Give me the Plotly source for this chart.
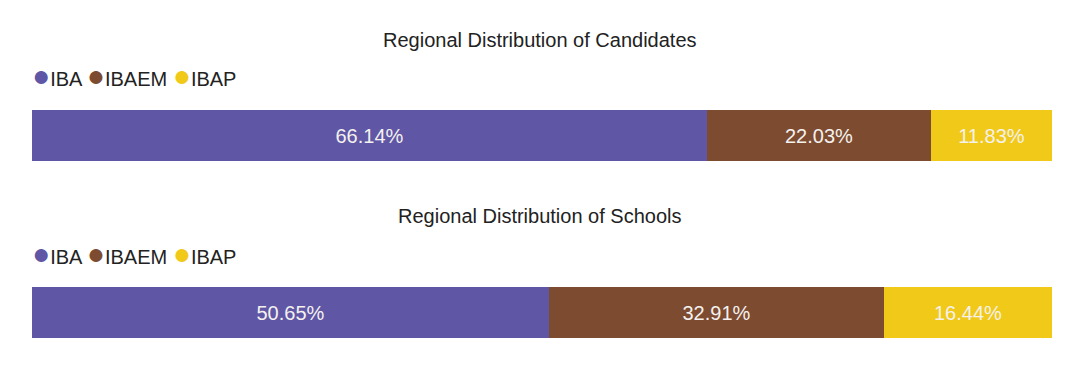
import plotly.graph_objects as go

regions = ["IBA", "IBAEM", "IBAP"]
colors = ["#5f56a5", "#7d4b30", "#f1c918"]
titles = ["Regional Distribution of Candidates", "Regional Distribution of Schools"]
candidates = [66.14, 22.03, 11.83]
schools = [50.65, 32.91, 16.44]
series = [candidates, schools]

OFF = 8  # page body margin
W, H = 1080 - 2 * OFF, 368 - 2 * OFF
def px(p):
    return (p - OFF) / W
def py(p):
    return 1 - (p - OFF) / H

fig = go.Figure()
bar_tops = [110, 287]
bar_h = 51
title_y = [40, 216]
legend_y = [76, 253]
FONT = "Liberation Sans, Arial, sans-serif"

for i, vals in enumerate(series):
    yref = "y" if i == 0 else "y2"
    xref = "x" if i == 0 else "x2"
    for r, v, c in zip(regions, vals, colors):
        fig.add_trace(go.Bar(
            x=[v], y=[""], orientation="h", name=r,
            marker=dict(color=c, line=dict(width=0)),
            text=[f"{v:.2f}%"], textposition="inside", insidetextanchor="middle",
            textfont=dict(color="#f4f1ee", size=20, family=FONT),
            showlegend=False, xaxis=xref, yaxis=yref, hoverinfo="skip",
        ))
    fig.add_annotation(text=titles[i], x=0.5, y=py(title_y[i]), xref="paper", yref="paper",
                       showarrow=False, font=dict(size=20, color="#222", family=FONT),
                       xanchor="center", yanchor="middle")
    legend_text = " ".join(
        f"<span style='color:{c};font-size:30px'>●</span>{r}" for r, c in zip(regions, colors))
    fig.add_annotation(text=legend_text, x=px(30), y=py(legend_y[i]), xref="paper", yref="paper",
                       showarrow=False, font=dict(size=20, color="#222", family=FONT),
                       xanchor="left", yanchor="middle")

xdom = [px(32), px(1052)]
fig.update_layout(
    width=W, height=H, margin=dict(l=0, r=0, t=0, b=0),
    paper_bgcolor="white", plot_bgcolor="white",
    barmode="stack", bargap=0,
    xaxis=dict(domain=xdom, range=[0, 100], visible=False, fixedrange=True),
    xaxis2=dict(domain=xdom, range=[0, 100], visible=False, anchor="y2"),
    yaxis=dict(domain=[py(bar_tops[0] + bar_h), py(bar_tops[0])], visible=False),
    yaxis2=dict(domain=[py(bar_tops[1] + bar_h), py(bar_tops[1])], visible=False, anchor="x2"),
)
fig.write_html("out.html")
